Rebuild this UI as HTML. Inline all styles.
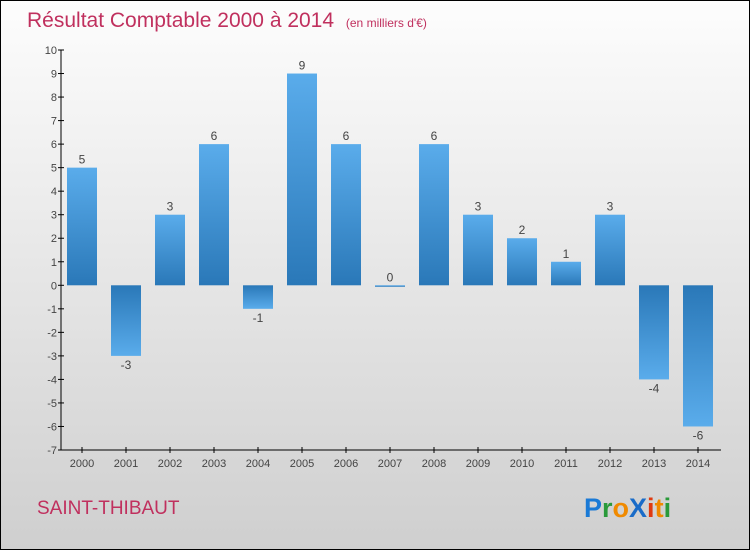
<!DOCTYPE html>
<html><head><meta charset="utf-8"><style>
body{margin:0;}
#c{width:748px;height:548px;border:1px solid #000;background:linear-gradient(#fdfdfd,#cfcfcf);position:relative;overflow:hidden;font-family:"Liberation Sans",sans-serif;}
</style></head><body>
<div id="c">
<svg id="s" width="748" height="548" xmlns="http://www.w3.org/2000/svg">
<defs>
<linearGradient id="gp" x1="0" y1="0" x2="0" y2="1"><stop offset="0" stop-color="#5aaceb"/><stop offset="1" stop-color="#2a78b8"/></linearGradient>
<linearGradient id="gn" x1="0" y1="0" x2="0" y2="1"><stop offset="0" stop-color="#2a78b8"/><stop offset="1" stop-color="#5aaceb"/></linearGradient>
</defs>
<text x="26" y="26" font-size="21" fill="#c0305e">Résultat Comptable 2000 à 2014 <tspan font-size="12" dx="6">(en milliers d'€)</tspan></text>
<text x="36" y="513" font-size="19" fill="#c0305e">SAINT-THIBAUT</text>
<g font-size="27" font-weight="bold">
<text x="583" y="516"><tspan fill="#1a7ad6">P</tspan><tspan fill="#2a9a3a">r</tspan><tspan fill="#f08a00">o</tspan><tspan fill="#1a6cc8">X</tspan><tspan fill="#e03a10">i</tspan><tspan fill="#f08a00">t</tspan><tspan fill="#2a9a3a">i</tspan></text>
</g>
<g id="plot"></g>
</svg>
</div>
<script>
const years=["2000","2001","2002","2003","2004","2005","2006","2007","2008","2009","2010","2011","2012","2013","2014"];
const values=[5,-3,3,6,-1,9,6,0,6,3,2,1,3,-4,-6];
const yTicks=[10,9,8,7,6,5,4,3,2,1,0,-1,-2,-3,-4,-5,-6,-7];
const NS="http://www.w3.org/2000/svg";
const g=document.getElementById('plot');
const y=v=>49+(10-v)*(400/17);
const x=i=>81+i*44;
function mk(t,a){const e=document.createElementNS(NS,t);for(const k in a)e.setAttribute(k,a[k]);g.appendChild(e);return e;}
let ax=mk('line',{x1:60,y1:49,x2:60,y2:449,stroke:'#000'});


let bx=mk('line',{x1:60,y1:449,x2:720,y2:449,stroke:'#000'});


yTicks.forEach(v=>{
 mk('line',{x1:57,y1:y(v),x2:63,y2:y(v),stroke:'#000'});
 const t=mk('text',{x:56,y:y(v)+4,'text-anchor':'end','font-size':11,fill:'#444'});
 t.textContent=v;
 
 
});
years.forEach((yr,i)=>{
 const v=values[i];
 mk('line',{x1:x(i),y1:446,x2:x(i),y2:452,stroke:'#000'});
 const t=mk('text',{x:x(i),y:466,'text-anchor':'middle','font-size':11,fill:'#444'});
 t.textContent=yr;
 
 
 const top=Math.min(y(v),y(0)),h=Math.max(Math.abs(y(v)-y(0)),1.5);
 const r=mk('rect',{x:x(i)-15,y:top,width:30,height:h,fill:v>=0?'url(#gp)':'url(#gn)'});
 
 
 const l=mk('text',{x:x(i),y:v>=0?y(v)-4:y(v)+13,'text-anchor':'middle','font-size':12,fill:'#444'});
 l.textContent=v;
 
 
});
</script>
</body></html>
